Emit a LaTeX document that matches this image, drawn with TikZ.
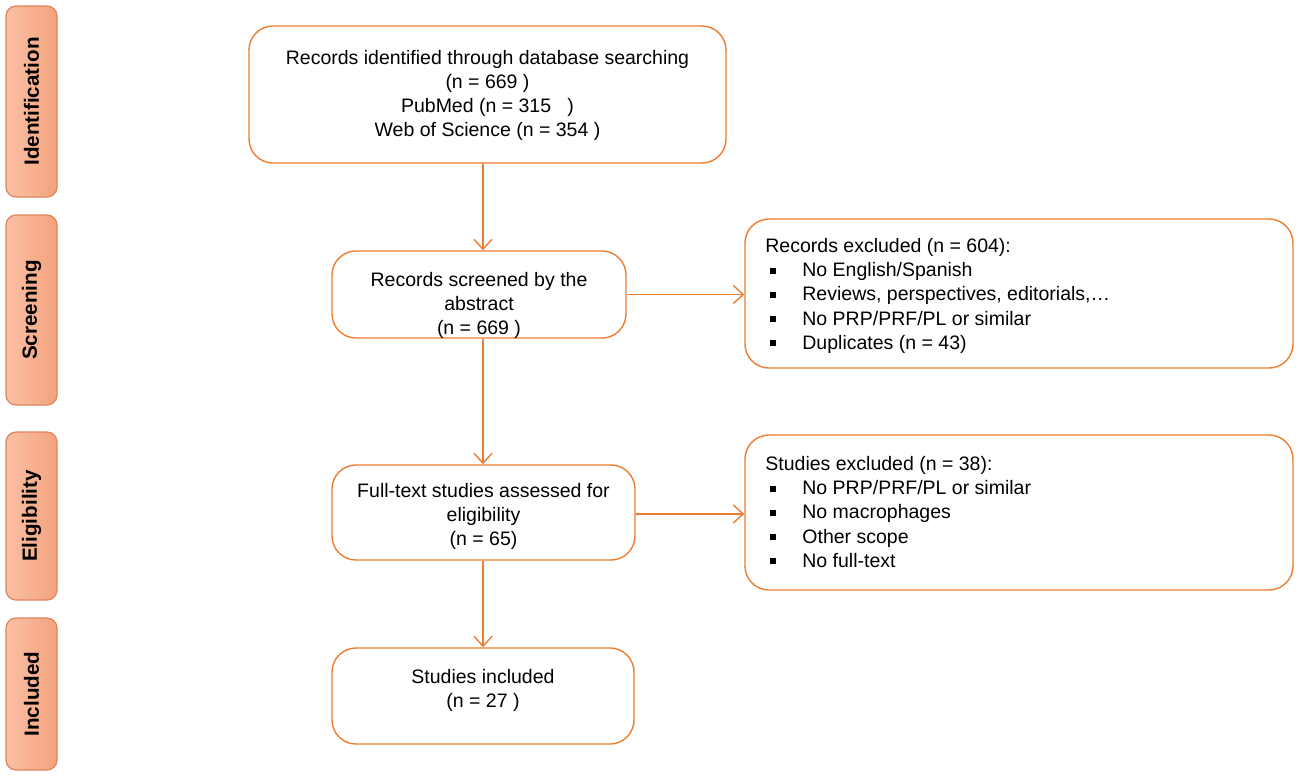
\documentclass[tikz,border=0pt]{standalone}
\usepackage{fontspec}
\setmainfont{Liberation Sans}
\usetikzlibrary{arrows.meta}
\definecolor{orng}{RGB}{237,125,49}
\definecolor{sideL}{RGB}{250,192,165}
\definecolor{sideR}{RGB}{244,162,124}
\definecolor{sideB}{RGB}{226,130,90}
\newcommand{\blt}{\hspace*{2.5pt}\makebox[16pt][l]{\rule[1.6pt]{3pt}{3pt}}}
\begin{document}
\begin{tikzpicture}[x=0.5pt,y=-0.5pt,
  box/.style={draw=orng,line width=0.7pt,rounded corners=12pt,fill=white,inner sep=0pt},
  side/.style={draw=sideB,line width=0.6pt,rounded corners=5pt,left color=sideL,right color=sideR,
    rotate=90,inner sep=0pt,minimum height=25.5pt,font=\bfseries\fontsize{10.3}{12}\selectfont},
  txt/.style={align=center,font=\fontsize{9.75}{12}\selectfont,inner sep=0pt},
  ltxt/.style={align=left,anchor=north west,font=\fontsize{9.75}{12.1}\selectfont,inner sep=0pt},
  arr/.style={draw=orng,line width=0.7pt,-{Straight Barb[length=5pt,width=9pt]}}]
\useasboundingbox (0,0) rectangle (1299,777);
% side labels
\node[side,minimum width=95.5pt] (sid) at (31.5,101.5) {Identification};
\node[side,minimum width=95pt] (ssc) at (31.5,310) {Screening};
\node[side,minimum width=84pt] (sel) at (31.5,516) {Eligibility};
\node[side,minimum width=76pt] (sin) at (31.5,694) {Included};
% main boxes
\node[box,minimum width=238.5pt,minimum height=68.5pt] (ident) at (487.5,94.5) {};
\node[txt] (identt) at (487.5,95) {Records identified through database searching\\(n = 669 )\\PubMed (n = 315 \ \ )\\Web of Science (n = 354 )};
\node[box,minimum width=147pt,minimum height=43.5pt] (scr) at (479,294.5) {};
\node[txt] (scrt) at (479,305) {Records screened by the\\abstract\\(n = 669 )};
\node[box,minimum width=274pt,minimum height=74.5pt] (rex) at (1019,293.5) {};
\node[ltxt] (rext) at (765,238) {Records excluded (n = 604):\\\blt No English/Spanish\\\blt Reviews, perspectives, editorials,…\\\blt No PRP/PRF/PL or similar\\\blt Duplicates (n = 43)};
\node[box,minimum width=151.5pt,minimum height=47.5pt] (ful) at (483.5,512.5) {};
\node[txt] (fult) at (483.5,516) {Full-text studies assessed for\\eligibility\\(n = 65)};
\node[box,minimum width=274pt,minimum height=77.5pt] (sex) at (1019,512.5) {};
\node[ltxt] (sext) at (765,456) {Studies excluded (n = 38):\\\blt No PRP/PRF/PL or similar\\\blt No macrophages\\\blt Other scope\\\blt No full-text};
\node[box,minimum width=151pt,minimum height=48pt] (inc) at (483,696) {};
\node[txt] (inct) at (483,690) {Studies included\\(n = 27 )};
% connectors
\draw[arr] (ident.south -| 483,0) -- (scr.north -| 483,0);
\draw[arr] (scr.south -| 483,0) -- (ful.north -| 483,0);
\draw[arr] (ful.south -| 483,0) -- (inc.north -| 483,0);
\draw[arr] (scr.east) -- (rex.west |- scr.east);
\draw[arr] (ful.east |- 0,514) -- (sex.west |- 0,514);
\end{tikzpicture}
\end{document}
